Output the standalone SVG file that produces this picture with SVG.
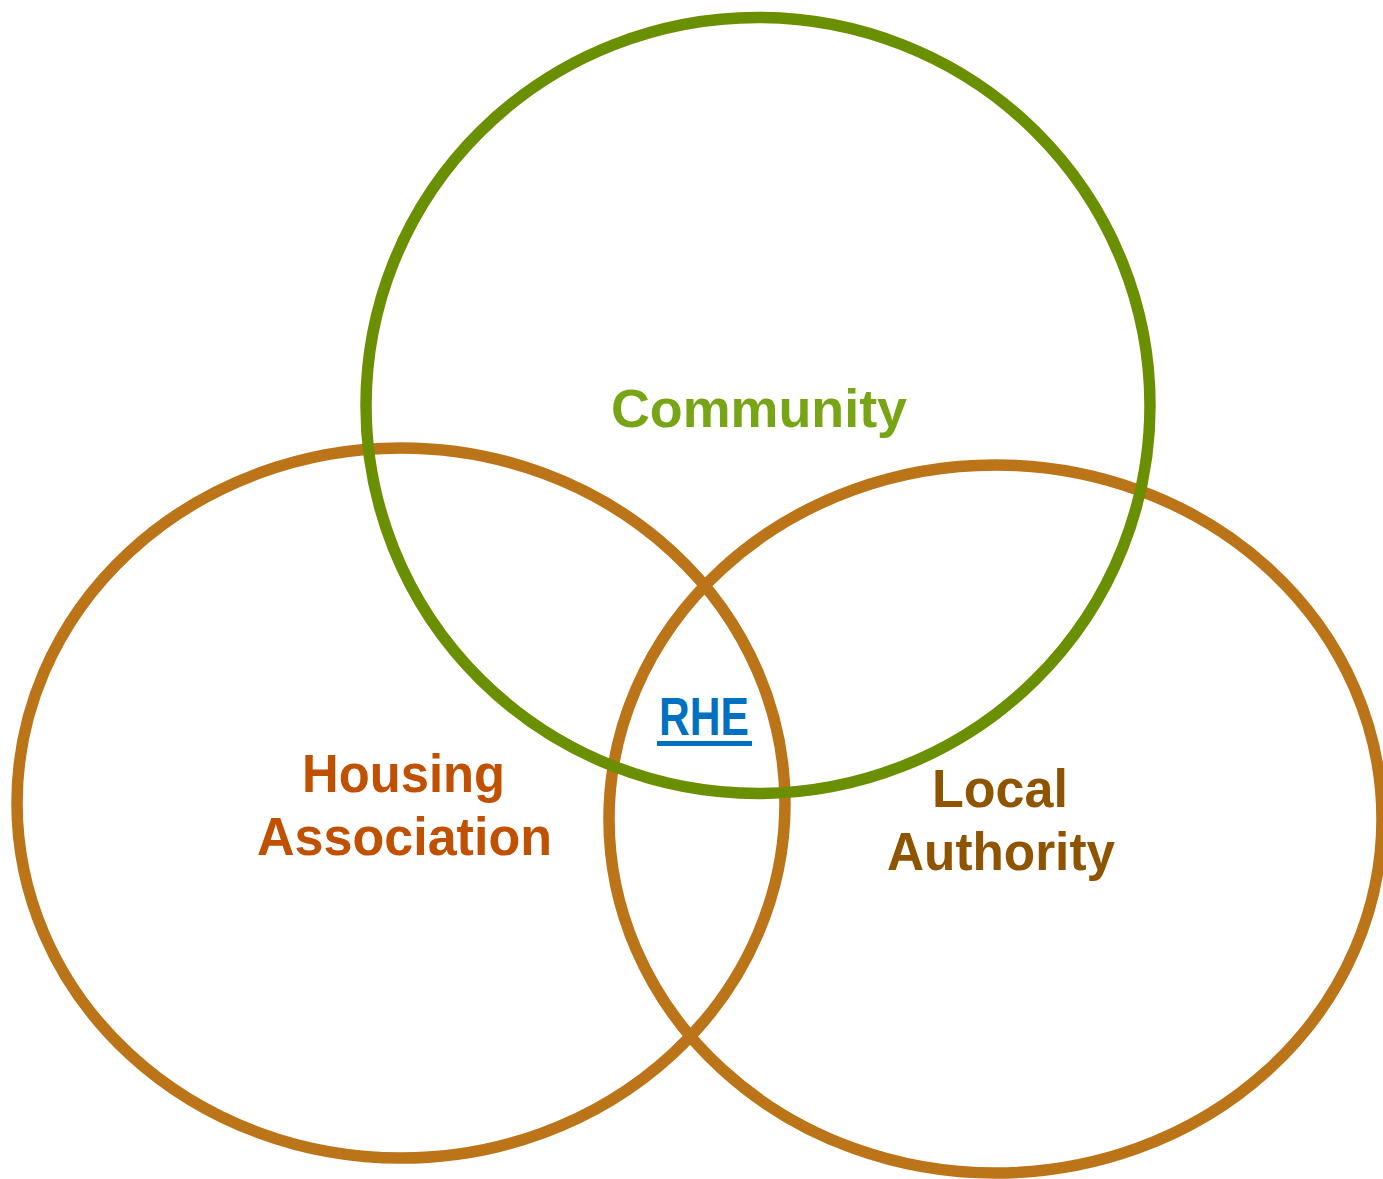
<svg xmlns="http://www.w3.org/2000/svg" width="1383" height="1179" viewBox="0 0 1383 1179">
<style>
.ring{fill:none;stroke-width:11.5}
.orange{stroke:#BC7418}
.green{stroke:#6A8F00}
.lbl{font-family:"Liberation Sans",Arial,sans-serif;font-weight:bold;font-size:54px;text-anchor:start}
</style>
<rect width="1383" height="1179" fill="#ffffff"/>
<g id="housing-association">
<ellipse class="ring orange" cx="401" cy="803" rx="384" ry="355"/>
</g>
<g id="local-authority">
<ellipse class="ring orange" cx="995.5" cy="819" rx="386.5" ry="354"/>
</g>
<g id="community">
<ellipse class="ring green" cx="758" cy="405.5" rx="392" ry="388"/>
</g>
<g id="labels">
<text class="lbl" x="611" y="427" fill="#77A516" textLength="296" lengthAdjust="spacingAndGlyphs">Community</text>
<text class="lbl" x="302" y="792" fill="#C05002" textLength="203" lengthAdjust="spacingAndGlyphs">Housing</text>
<text class="lbl" x="257" y="855" fill="#C05002" textLength="295" lengthAdjust="spacingAndGlyphs">Association</text>
<text class="lbl" x="932" y="807" fill="#8E5400" textLength="136" lengthAdjust="spacingAndGlyphs">Local</text>
<text class="lbl" x="887" y="870" fill="#8E5400" textLength="228" lengthAdjust="spacingAndGlyphs">Authority</text>
<text class="lbl" x="659" y="735" fill="#0070C0" font-size="52" textLength="90" lengthAdjust="spacingAndGlyphs">RHE</text>
<rect x="657" y="741" width="95" height="5" fill="#0070C0"/>
</g>
</svg>
